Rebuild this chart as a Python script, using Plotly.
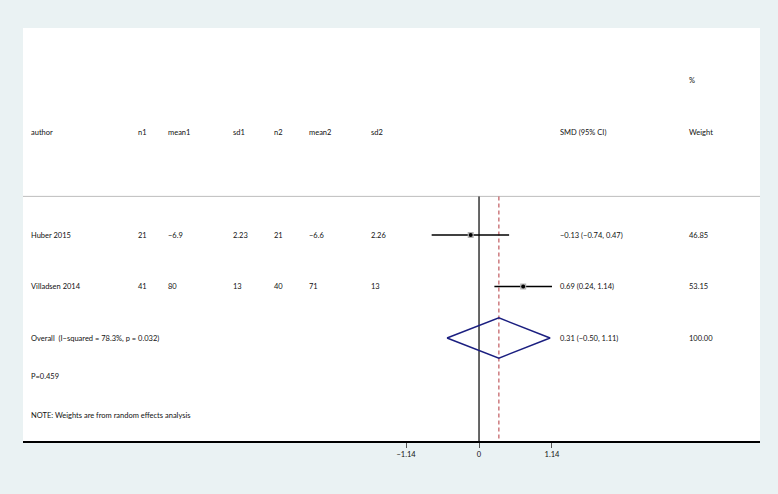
import plotly.graph_objects as go

# Study-level data
authors = ["Huber 2015", "Villadsen 2014"]
n1 = ["21", "41"]
mean1 = ["\u22126.9", "80"]
sd1 = ["2.23", "13"]
n2 = ["21", "40"]
mean2 = ["\u22126.6", "71"]
sd2 = ["2.26", "13"]
smd = [-0.13, 0.69]
ci_low = [-0.74, 0.24]
ci_high = [0.47, 1.14]
weights = ["46.85", "53.15"]

# Pooled (random effects) estimate
overall_label = "Overall  (I\u2212squared = 78.3%, p = 0.032)"
overall_smd = 0.31
overall_low = -0.50
overall_high = 1.11
overall_weight = "100.00"
p_label = "P=0.459"
note_label = "NOTE: Weights are from random effects analysis"

# Axis ticks
tick_vals = [-1.14, 0, 1.14]
tick_text = ["\u22121.14", "0", "1.14"]

# Header labels
headers = ["author", "n1", "mean1", "sd1", "n2", "mean2", "sd2", "SMD (95% CI)", "Weight"]


def fmt(v):
    s = f"{v:.2f}"
    return s.replace("-", "\u2212")


# Layout: text column x positions (data units) and row y positions
col_x = [-7.0, -5.33, -4.86, -3.845, -3.205, -2.66, -1.69, 1.265, 3.28]
row_y = [3, 2]
overall_y = 1
p_y = 0.25
note_y = -0.5
header_y = 5
pct_y = 6
sep_y = 3.75
x_range = [-7.125, 4.39]
y_range = [-1.0, 7.02]

FONT = "Lato"
FS = 7.5
TXT = "#111111"

fig = go.Figure()

# Separator line under header
fig.add_trace(go.Scatter(x=x_range, y=[sep_y, sep_y], mode="lines",
                         line=dict(color="#bdbdbd", width=1), hoverinfo="skip"))
# No-effect line
fig.add_trace(go.Scatter(x=[0, 0], y=[sep_y, y_range[0]], mode="lines",
                         line=dict(color="black", width=1.2), hoverinfo="skip"))
# Pooled estimate reference line
fig.add_trace(go.Scatter(x=[overall_smd, overall_smd], y=[sep_y, y_range[0]], mode="lines",
                         line=dict(color="#c0595e", width=1.2, dash="4px,3px"), hoverinfo="skip"))

# Confidence intervals
for lo, hi, y in zip(ci_low, ci_high, row_y):
    fig.add_trace(go.Scatter(x=[lo, hi], y=[y, y], mode="lines",
                             line=dict(color="black", width=1.5), hoverinfo="skip"))
# Weight boxes and point estimates
fig.add_trace(go.Scatter(x=smd, y=row_y, mode="markers",
                         marker=dict(symbol="square", size=6, color="#b4b4b4"), hoverinfo="skip"))
fig.add_trace(go.Scatter(x=smd, y=row_y, mode="markers",
                         marker=dict(symbol="circle", size=4, color="black"), hoverinfo="skip"))

# Overall diamond
h = 0.39
fig.add_trace(go.Scatter(
    x=[overall_low, overall_smd, overall_high, overall_smd, overall_low],
    y=[overall_y, overall_y + h, overall_y, overall_y - h, overall_y],
    mode="lines", line=dict(color="#1b1f80", width=1.5), hoverinfo="skip"))

annotations = []


def txt(x, y, s):
    annotations.append(dict(x=x, y=y, xref="x", yref="y", text=s, showarrow=False,
                            xanchor="left", yanchor="middle", xshift=-2,
                            font=dict(family=FONT, size=FS, color=TXT)))


for cx, hd in zip(col_x, headers):
    txt(cx, header_y, hd)
txt(col_x[8], pct_y, "%")

for i, y in enumerate(row_y):
    cells = [authors[i], n1[i], mean1[i], sd1[i], n2[i], mean2[i], sd2[i],
             f"{fmt(smd[i])} ({fmt(ci_low[i])}, {fmt(ci_high[i])})", weights[i]]
    for cx, c in zip(col_x, cells):
        txt(cx, y, c)

txt(col_x[0], overall_y, overall_label)
txt(col_x[7], overall_y, f"{fmt(overall_smd)} ({fmt(overall_low)}, {fmt(overall_high)})")
txt(col_x[8], overall_y, overall_weight)
txt(col_x[0], p_y, p_label)
txt(col_x[0], note_y, note_label)

fig.update_layout(
    width=778, height=494,
    margin=dict(l=23, r=18, t=28, b=53),
    paper_bgcolor="#eaf2f3",
    plot_bgcolor="white",
    showlegend=False,
    annotations=annotations,
    xaxis=dict(range=x_range, tickvals=tick_vals, ticktext=tick_text,
               showgrid=False, zeroline=False, showline=True, linecolor="black",
               linewidth=1.5, ticks="outside", ticklen=5, tickwidth=1, tickcolor="#555555",
               tickfont=dict(family=FONT, size=FS, color=TXT), fixedrange=True),
    yaxis=dict(range=y_range, visible=False, fixedrange=True),
)

fig.write_html("out.html", config={"displayModeBar": False})
